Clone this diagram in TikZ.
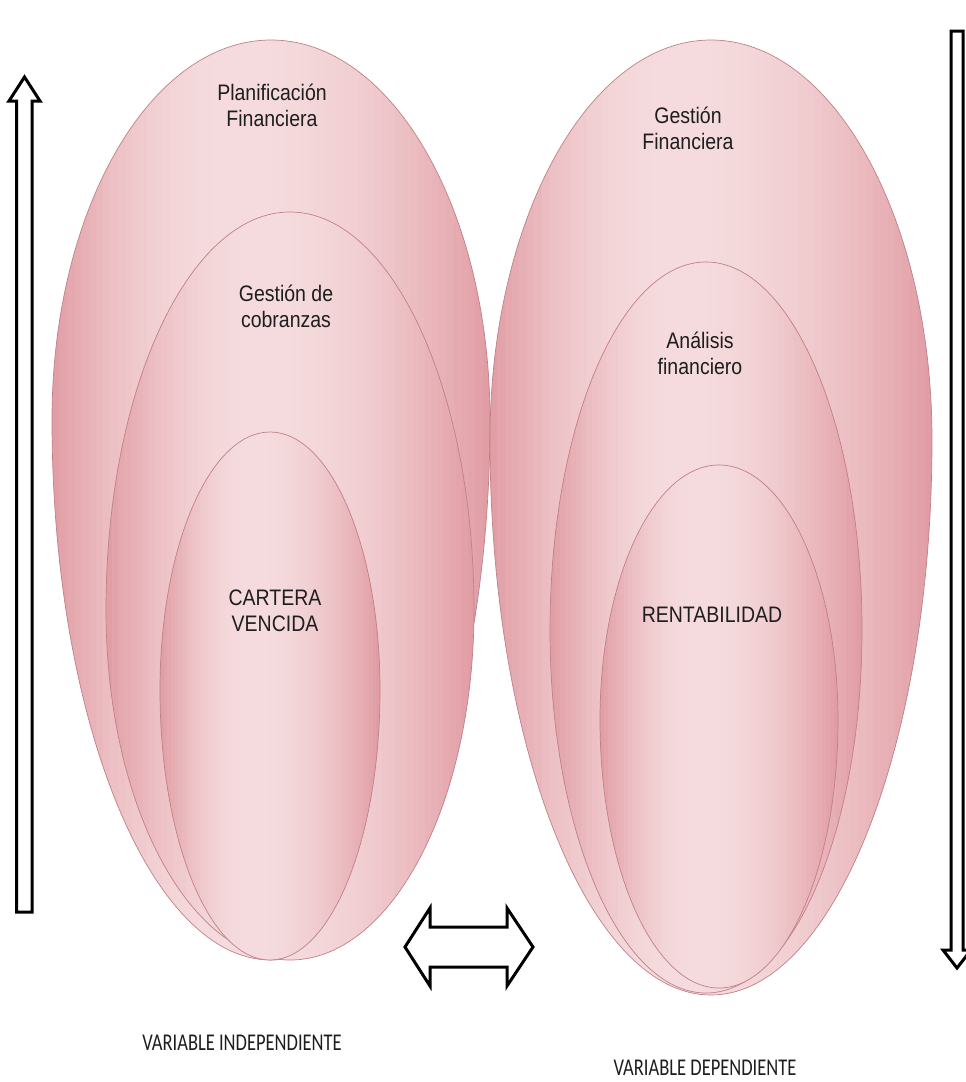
\documentclass[tikz,border=0pt]{standalone}
\usepackage{fontspec}
\setmainfont{Liberation Sans}
\newfontfamily\lblfont{Carlito}
\definecolor{pinkD}{RGB}{224,156,163}
\definecolor{pinkL}{RGB}{245,220,222}
\definecolor{pinkE}{RGB}{192,128,136}
\definecolor{txt}{RGB}{30,30,30}
% egg: cx, top, wy, bot, rx
\newcommand{\eggshape}[5]{(#1-#5,#3) arc[start angle=180,end angle=360,x radius=#5,y radius={#3-#2}]
     arc[start angle=0,end angle=180,x radius=#5,y radius={#4-#3}]}
\newcommand{\myegg}[5]{%
  \begin{scope}
  \clip \eggshape{#1}{#2}{#3}{#4}{#5};
  \foreach \i in {0,...,59}{%
    \pgfmathsetmacro{\myt}{(\i+0.5)/60}%
    \pgfmathsetmacro{\myu}{abs(\myt-0.42)/(0.42+0.16*(\myt>0.42))}%
    \pgfmathtruncatemacro{\mypp}{100*(1-\myu*\myu)}%
    \pgfmathsetmacro{\xa}{#1-#5+(#5/30)*\i}%
    \pgfmathsetmacro{\xb}{#1-#5+(#5/30)*(\i+1)+0.6}%
    \colorlet{cc}{pinkL!\mypp!pinkD}%
    \fill[cc] (\xa,#2-1) rectangle (\xb,#4+1);
  }
  \end{scope}
  \draw[eggline] \eggshape{#1}{#2}{#3}{#4}{#5};}
\newcommand{\twoline}[2]{\scalebox{1}[1.15]{\begin{tabular}{@{}c@{}}#1\\#2\end{tabular}}}
\begin{document}
\begin{tikzpicture}[x=1pt,y=-1pt,
  eggline/.style={draw=pinkE, line width=0.7pt},
  lbl/.style={text=txt, inner sep=0pt, font=\fontsize{19.5}{22.6}\selectfont},
  blbl/.style={text=txt, inner sep=0pt, font=\lblfont\fontsize{18.5}{20}\selectfont},
  bigarrow/.style={draw=black, fill=white, line width=3pt, line join=miter}]
\useasboundingbox (0,0) rectangle (966,1082);
% left group
\myegg{271}{40}{420}{960}{219}
\myegg{290}{212}{610}{960}{184}
\myegg{270}{432}{690}{960}{110}
% right group
\myegg{711}{40}{440}{995}{221}
\myegg{706}{262}{630}{993}{156}
\myegg{719}{465}{720}{988}{119}
% labels
\node[lbl] (plan) at (272,108) {\twoline{Planificación}{Financiera}};
\node[lbl] (gcob) at (286,309) {\twoline{Gestión de}{cobranzas}};
\node[lbl] (cart) at (275,613) {\twoline{CARTERA}{VENCIDA}};
\node[lbl] (gfin) at (688,131) {\twoline{Gestión}{Financiera}};
\node[lbl] (anal) at (700,356) {\twoline{Análisis}{financiero}};
\node[lbl] (rent) at (712,615) {\scalebox{1}[1.15]{RENTABILIDAD}};
\node[blbl] (indep) at (242,1043) {\scalebox{1}[1.3]{VARIABLE INDEPENDIENTE}};
\node[blbl] (dep) at (705,1068) {\scalebox{1}[1.3]{VARIABLE DEPENDIENTE}};
% arrows
\draw[bigarrow] (16.5,912) -- (16.5,101) -- (9,101) -- (24.5,77) -- (40,101) -- (32,101) -- (32,912) -- cycle;
\draw[bigarrow] (951,31) -- (963,31) -- (963,950) -- (971,950) -- (957,968) -- (943,950) -- (951,950) -- cycle;
\draw[bigarrow] (405,947) -- (430,908) -- (430,927) -- (507,927) -- (507,908) -- (533,947) -- (507,986) -- (507,967) -- (430,967) -- (430,986) -- cycle;
\end{tikzpicture}
\end{document}
